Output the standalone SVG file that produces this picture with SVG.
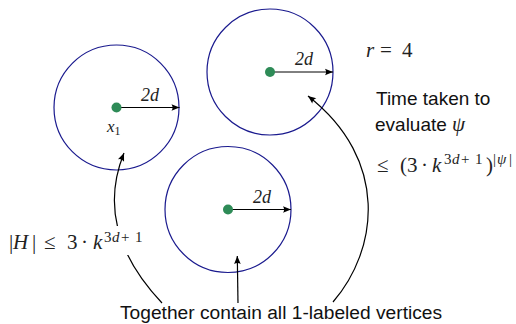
<svg xmlns="http://www.w3.org/2000/svg" width="516" height="324" viewBox="0 0 516 324">
<style>
.ring{fill:none;stroke:#1a1a8e;stroke-width:1.2}
.dot{fill:#2e8b57}
.rad{stroke:#000;stroke-width:1;fill:none}
.conn{stroke:#000;stroke-width:1.2;fill:none}
.m{font-family:"Liberation Serif","DejaVu Serif",serif;fill:#222}
.i{font-style:italic}
.s{font-family:"Liberation Sans","DejaVu Sans",sans-serif;fill:#111}
</style>
<defs>
<marker id="ah" viewBox="-9 -5 10 10" refX="0" refY="0" markerWidth="10" markerHeight="10" markerUnits="userSpaceOnUse" orient="auto">
<path d="M0,0 L-8,-3.3 Q-5.8,0 -8,3.3 Z" fill="#000"/>
</marker>
</defs>
<rect width="516" height="324" fill="#fff"/>

<g id="ball1">
<circle class="ring" cx="116.5" cy="107.5" r="62.5"/>
<line class="rad" x1="116.5" y1="107.5" x2="179.5" y2="107.5" marker-end="url(#ah)"/>
<circle class="dot" cx="116.5" cy="107.5" r="5"/>
<text class="m i" x="141" y="101" font-size="18">2d</text>
<text class="m i" x="107" y="132" font-size="17">x<tspan font-style="normal" font-size="12" dy="3">1</tspan></text>
</g>

<g id="ball2">
<circle class="ring" cx="270" cy="72" r="63"/>
<line class="rad" x1="270" y1="72" x2="333" y2="72" marker-end="url(#ah)"/>
<circle class="dot" cx="270" cy="72" r="5"/>
<text class="m i" x="295" y="65" font-size="18">2d</text>
</g>

<g id="ball3">
<circle class="ring" cx="228" cy="209.5" r="63"/>
<line class="rad" x1="228" y1="209.5" x2="291" y2="209.5" marker-end="url(#ah)"/>
<circle class="dot" cx="228" cy="209.5" r="5"/>
<text class="m i" x="253" y="203" font-size="18">2d</text>
</g>

<g id="connectors">
<path class="conn" d="M162,303 C112,250 105,200 124,153" marker-end="url(#ah)"/>
<path class="conn" d="M238,303 L237.3,256" marker-end="url(#ah)"/>
<path class="conn" d="M333,302 C378,250 390,160 308,96" marker-end="url(#ah)"/>
</g>

<g id="label-H">
<rect x="5" y="226" width="142" height="29" fill="#fff"/>
<text class="m" y="249" font-size="21"><tspan x="9">|</tspan><tspan class="i" x="13">H</tspan><tspan x="32">|</tspan><tspan x="44">≤</tspan><tspan x="67">3</tspan><tspan x="81">·</tspan><tspan class="i" x="93">k</tspan></text>
<text class="m" y="242" font-size="15"><tspan x="104">3</tspan><tspan class="i" x="112">d</tspan><tspan x="121">+</tspan><tspan x="135">1</tspan></text>
</g>

<g id="label-r">
<text class="m" y="57" font-size="21"><tspan class="i" x="366">r</tspan><tspan x="380">=</tspan><tspan x="402">4</tspan></text>
</g>

<g id="label-time">
<text class="s" x="376" y="105" font-size="19">Time taken to</text>
<text class="s" x="375" y="131" font-size="19">evaluate <tspan class="m i" x="452" font-size="21">ψ</tspan></text>
<text class="m" y="172" font-size="21"><tspan x="377">≤</tspan><tspan x="400">(</tspan><tspan x="407">3</tspan><tspan x="421">·</tspan><tspan class="i" x="432">k</tspan><tspan x="486">)</tspan></text>
<text class="m" y="164" font-size="15"><tspan x="444">3</tspan><tspan class="i" x="452">d</tspan><tspan x="461">+</tspan><tspan x="475">1</tspan><tspan x="493">|</tspan><tspan class="i" x="497">ψ</tspan><tspan x="509">|</tspan></text>
</g>

<g id="label-bottom">
<text class="s" x="120" y="319" font-size="19.2">Together contain all 1-labeled vertices</text>
</g>
</svg>
